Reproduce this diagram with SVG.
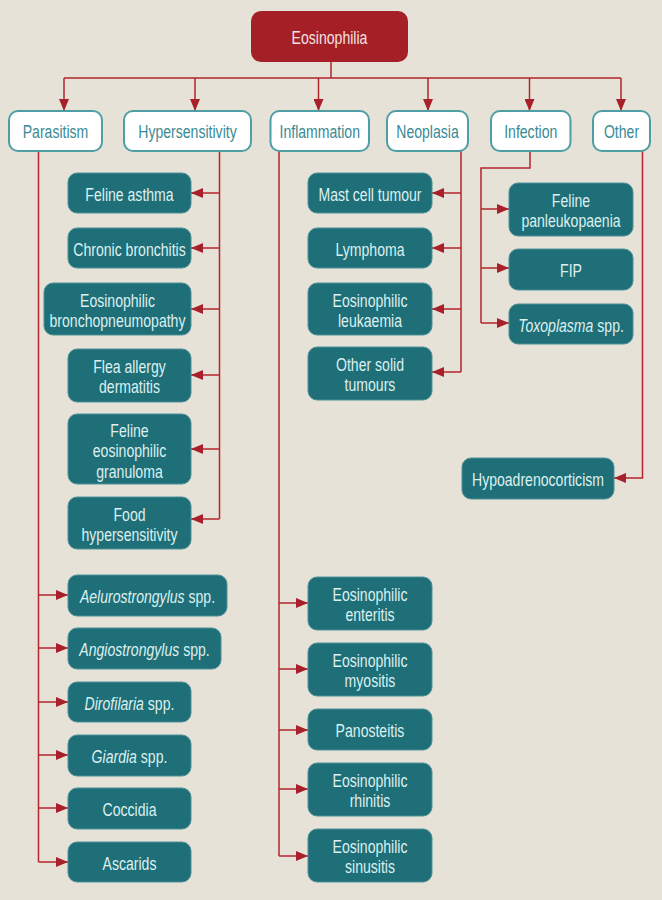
<svg xmlns="http://www.w3.org/2000/svg" width="662" height="900" viewBox="0 0 662 900">
<style>
text{font-family:"Liberation Sans",Arial,sans-serif;font-size:18.5px;text-anchor:middle}
.root rect{fill:#A41F26}
.root text{fill:#F3E2E2}
.cat rect{fill:#FFFFFF;stroke:#4E9EA4;stroke-width:2}
.cat text{fill:#3A8A93}
.leaf rect{fill:#1E6F78;stroke:#4F9196;stroke-width:1}
.leaf text{fill:#DDF0F0}
.it{font-style:italic}
#connectors path{fill:none;stroke:#B3262C;stroke-width:1.5}
#connectors path.a{marker-end:url(#ah)}
</style>
<defs>
<marker id="ah" markerWidth="12" markerHeight="10" refX="12" refY="5" orient="auto" markerUnits="userSpaceOnUse">
<path d="M0,0 L12,5 L0,10 z" fill="#A8202A"/>
</marker>
</defs>
<rect x="0" y="0" width="662" height="900" fill="#E6E2D7"/>

<g id="connectors">
<path d="M331,62 V78 M64,78 H621"/>
<path class="a" d="M64,78 V111"/>
<path class="a" d="M195,78 V111"/>
<path class="a" d="M318.5,78 V111"/>
<path class="a" d="M428,78 V111"/>
<path class="a" d="M529.5,78 V111"/>
<path class="a" d="M621,78 V111"/>
<path d="M38.5,151 V862"/>
<path class="a" d="M38.5,595 H68"/>
<path class="a" d="M38.5,648 H68"/>
<path class="a" d="M38.5,702 H68"/>
<path class="a" d="M38.5,755 H68"/>
<path class="a" d="M38.5,808 H68"/>
<path class="a" d="M38.5,862 H68"/>
<path d="M219.5,151 V519"/>
<path class="a" d="M219.5,193 H191"/>
<path class="a" d="M219.5,248 H191"/>
<path class="a" d="M219.5,309 H191"/>
<path class="a" d="M219.5,375 H191"/>
<path class="a" d="M219.5,449 H191"/>
<path class="a" d="M219.5,519 H191"/>
<path d="M279,151 V856"/>
<path class="a" d="M279,603 H308"/>
<path class="a" d="M279,669 H308"/>
<path class="a" d="M279,730 H308"/>
<path class="a" d="M279,789 H308"/>
<path class="a" d="M279,856 H308"/>
<path d="M461,151 V372"/>
<path class="a" d="M461,193 H432"/>
<path class="a" d="M461,248 H432"/>
<path class="a" d="M461,309 H432"/>
<path class="a" d="M461,372 H432"/>
<path d="M530,151 V168 H481 V323"/>
<path class="a" d="M481,209 H509"/>
<path class="a" d="M481,268 H509"/>
<path class="a" d="M481,323 H509"/>
<path class="a" d="M642.5,151 V478 H614"/>
</g>

<g id="n-eosinophilia" class="root"><rect x="251" y="11" width="157" height="51" rx="10"/><text transform="translate(329.5 44) scale(.76 1)">Eosinophilia</text></g>

<g id="n-parasitism" class="cat"><rect x="9" y="111" width="93" height="40" rx="9"/><text transform="translate(55.5 138) scale(.76 1)">Parasitism</text></g>
<g id="n-hypersensitivity" class="cat"><rect x="124" y="111" width="127" height="40" rx="9"/><text transform="translate(187.5 138) scale(.76 1)">Hypersensitivity</text></g>
<g id="n-inflammation" class="cat"><rect x="270.5" y="111" width="98.5" height="40" rx="9"/><text transform="translate(319.75 138) scale(.76 1)">Inflammation</text></g>
<g id="n-neoplasia" class="cat"><rect x="387" y="111" width="81" height="40" rx="9"/><text transform="translate(427.5 138) scale(.76 1)">Neoplasia</text></g>
<g id="n-infection" class="cat"><rect x="491" y="111" width="79.5" height="40" rx="9"/><text transform="translate(530.75 138) scale(.76 1)">Infection</text></g>
<g id="n-other" class="cat"><rect x="593" y="111" width="57" height="40" rx="9"/><text transform="translate(621.5 138) scale(.76 1)">Other</text></g>

<g id="n-feline-asthma" class="leaf"><rect x="68" y="173" width="123" height="40" rx="9"/><text transform="translate(129.5 200.5) scale(.76 1)">Feline asthma</text></g>
<g id="n-chronic-bronchitis" class="leaf"><rect x="68" y="228" width="123" height="40" rx="9"/><text transform="translate(129.5 255.5) scale(.76 1)">Chronic bronchitis</text></g>
<g id="n-eos-bronchopneumopathy" class="leaf"><rect x="44" y="283" width="147" height="52" rx="9"/><text transform="translate(117.5 306.5) scale(.76 1)"><tspan x="0">Eosinophilic</tspan><tspan x="0" dy="20.5">bronchopneumopathy</tspan></text></g>
<g id="n-flea-allergy" class="leaf"><rect x="68" y="349" width="123" height="53" rx="9"/><text transform="translate(129.5 373) scale(.76 1)"><tspan x="0">Flea allergy</tspan><tspan x="0" dy="20.5">dermatitis</tspan></text></g>
<g id="n-feline-eos-granuloma" class="leaf"><rect x="68" y="414" width="123" height="70" rx="9"/><text transform="translate(129.5 437) scale(.76 1)"><tspan x="0">Feline</tspan><tspan x="0" dy="20.5">eosinophilic</tspan><tspan x="0" dy="20.5">granuloma</tspan></text></g>
<g id="n-food-hypersensitivity" class="leaf"><rect x="68" y="497" width="123" height="52" rx="9"/><text transform="translate(129.5 520.5) scale(.76 1)"><tspan x="0">Food</tspan><tspan x="0" dy="20.5">hypersensitivity</tspan></text></g>

<g id="n-aelurostrongylus" class="leaf"><rect x="68" y="575" width="159" height="41" rx="9"/><text transform="translate(147.5 603) scale(.76 1)"><tspan class="it">Aelurostrongylus</tspan> spp.</text></g>
<g id="n-angiostrongylus" class="leaf"><rect x="68" y="628" width="153" height="41" rx="9"/><text transform="translate(144.5 656) scale(.76 1)"><tspan class="it">Angiostrongylus</tspan> spp.</text></g>
<g id="n-dirofilaria" class="leaf"><rect x="68" y="682" width="123" height="40" rx="9"/><text transform="translate(129.5 709.5) scale(.76 1)"><tspan class="it">Dirofilaria</tspan> spp.</text></g>
<g id="n-giardia" class="leaf"><rect x="68" y="735" width="123" height="41" rx="9"/><text transform="translate(129.5 763) scale(.76 1)"><tspan class="it">Giardia</tspan> spp.</text></g>
<g id="n-coccidia" class="leaf"><rect x="68" y="788" width="123" height="41" rx="9"/><text transform="translate(129.5 816) scale(.76 1)">Coccidia</text></g>
<g id="n-ascarids" class="leaf"><rect x="68" y="842" width="123" height="40" rx="9"/><text transform="translate(129.5 869.5) scale(.76 1)">Ascarids</text></g>

<g id="n-mast-cell" class="leaf"><rect x="308" y="173" width="124" height="40" rx="9"/><text transform="translate(370 200.5) scale(.76 1)">Mast cell tumour</text></g>
<g id="n-lymphoma" class="leaf"><rect x="308" y="228" width="124" height="40" rx="9"/><text transform="translate(370 255.5) scale(.76 1)">Lymphoma</text></g>
<g id="n-eos-leukaemia" class="leaf"><rect x="308" y="283" width="124" height="52" rx="9"/><text transform="translate(370 306.5) scale(.76 1)"><tspan x="0">Eosinophilic</tspan><tspan x="0" dy="20.5">leukaemia</tspan></text></g>
<g id="n-other-solid" class="leaf"><rect x="308" y="347" width="124" height="53" rx="9"/><text transform="translate(370 371) scale(.76 1)"><tspan x="0">Other solid</tspan><tspan x="0" dy="20.5">tumours</tspan></text></g>

<g id="n-eos-enteritis" class="leaf"><rect x="308" y="577" width="124" height="53" rx="9"/><text transform="translate(370 601) scale(.76 1)"><tspan x="0">Eosinophilic</tspan><tspan x="0" dy="20.5">enteritis</tspan></text></g>
<g id="n-eos-myositis" class="leaf"><rect x="308" y="643" width="124" height="53" rx="9"/><text transform="translate(370 667) scale(.76 1)"><tspan x="0">Eosinophilic</tspan><tspan x="0" dy="20.5">myositis</tspan></text></g>
<g id="n-panosteitis" class="leaf"><rect x="308" y="709" width="124" height="41" rx="9"/><text transform="translate(370 737) scale(.76 1)">Panosteitis</text></g>
<g id="n-eos-rhinitis" class="leaf"><rect x="308" y="763" width="124" height="53" rx="9"/><text transform="translate(370 787) scale(.76 1)"><tspan x="0">Eosinophilic</tspan><tspan x="0" dy="20.5">rhinitis</tspan></text></g>
<g id="n-eos-sinusitis" class="leaf"><rect x="308" y="829" width="124" height="53" rx="9"/><text transform="translate(370 853) scale(.76 1)"><tspan x="0">Eosinophilic</tspan><tspan x="0" dy="20.5">sinusitis</tspan></text></g>

<g id="n-panleukopaenia" class="leaf"><rect x="509" y="183" width="124" height="53" rx="9"/><text transform="translate(571 207) scale(.76 1)"><tspan x="0">Feline</tspan><tspan x="0" dy="20.5">panleukopaenia</tspan></text></g>
<g id="n-fip" class="leaf"><rect x="509" y="249" width="124" height="41" rx="9"/><text transform="translate(571 277) scale(.76 1)">FIP</text></g>
<g id="n-toxoplasma" class="leaf"><rect x="509" y="304" width="124" height="40" rx="9"/><text transform="translate(571 331.5) scale(.76 1)"><tspan class="it">Toxoplasma</tspan> spp.</text></g>

<g id="n-hypoadrenocorticism" class="leaf"><rect x="462" y="458" width="152" height="41" rx="9"/><text transform="translate(538 486) scale(.76 1)">Hypoadrenocorticism</text></g>
</svg>
